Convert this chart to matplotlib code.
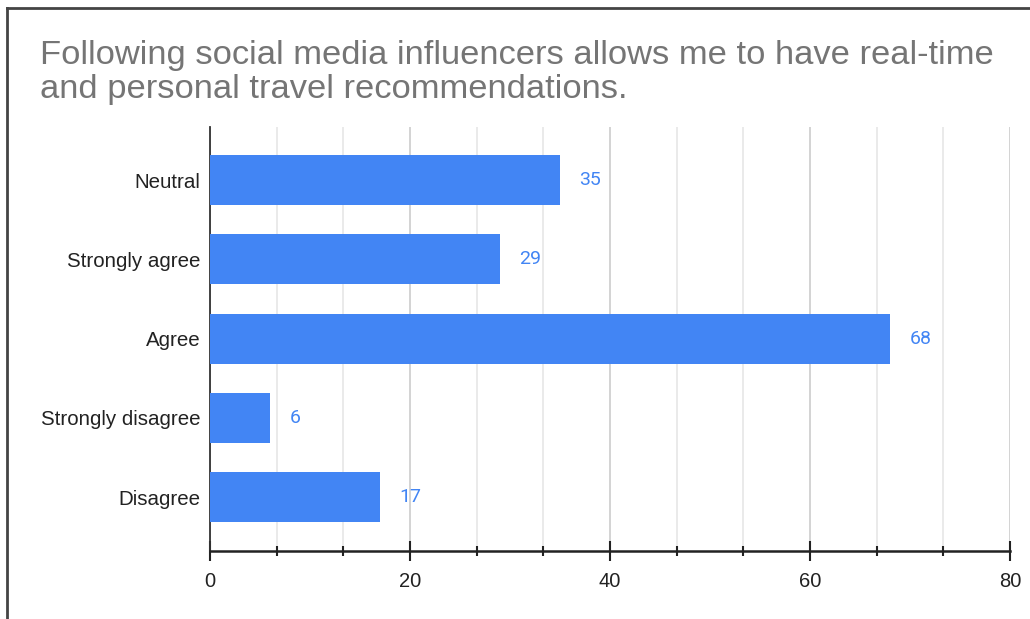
import matplotlib
matplotlib.use("Agg")
import matplotlib.pyplot as plt
from matplotlib.ticker import MultipleLocator
from matplotlib.lines import Line2D

categories = ["Neutral", "Strongly agree", "Agree", "Strongly disagree", "Disagree"]
values = [35, 29, 68, 6, 17]
title = "Following social media influencers allows me to have real-time\nand personal travel recommendations."

plt.rcParams['font.family'] = ['Liberation Sans', 'DejaVu Sans']

fig = plt.figure(figsize=(10.30, 6.19), dpi=100)
ax = fig.add_axes([210/1030, 68/619, 800/1030, 424/619])

ypos = list(range(len(categories)))
bar_color = "#4285F4"
ax.barh(ypos, values, height=0.63, color=bar_color, zorder=3)
for y, v in zip(ypos, values):
    ax.annotate(str(v), xy=(v, y), xytext=(14, 0), textcoords="offset points",
                va="center", ha="left", color=bar_color, fontsize=14,
                family=["Roboto", "DejaVu Sans"])

ax.set_xlim(0, 80)
ax.set_ylim(4.68, -0.67)
ax.set_yticks(ypos)
ax.set_yticklabels(categories)
ax.xaxis.set_major_locator(MultipleLocator(20))
ax.xaxis.set_minor_locator(MultipleLocator(20/3))
ax.grid(axis="x", which="major", color="#cccccc", linewidth=1.2, zorder=0)
ax.grid(axis="x", which="minor", color="#e6e6e6", linewidth=1.2, zorder=0)
ax.set_axisbelow(True)

for s in ["top", "right"]:
    ax.spines[s].set_visible(False)
ax.spines["left"].set_color("#333333")
ax.spines["left"].set_linewidth(1.3)
ax.spines["bottom"].set_color("#222222")
ax.spines["bottom"].set_linewidth(1.8)
ax.tick_params(axis="x", which="major", direction="inout", length=14, width=1.5,
               color="#222222", labelsize=14.5, labelcolor="#222222", pad=8)
ax.tick_params(axis="x", which="minor", direction="inout", length=7, width=1.5,
               color="#222222")
ax.tick_params(axis="y", length=0, labelsize=14.8, labelcolor="#222222", pad=7)

fig.text(40/1030, 1 - 40/619, title, fontsize=24.8, color="#757575",
         ha="left", va="top", linespacing=1.12)

# outer frame (left and top edges visible)
fig.add_artist(Line2D([7/1030, 7/1030], [0, 1 - 8/619], color="#444444", linewidth=2,
                      transform=fig.transFigure))
fig.add_artist(Line2D([7/1030, 1], [1 - 8/619, 1 - 8/619], color="#444444", linewidth=2,
                      transform=fig.transFigure))

fig.savefig("out.png", dpi=100)
